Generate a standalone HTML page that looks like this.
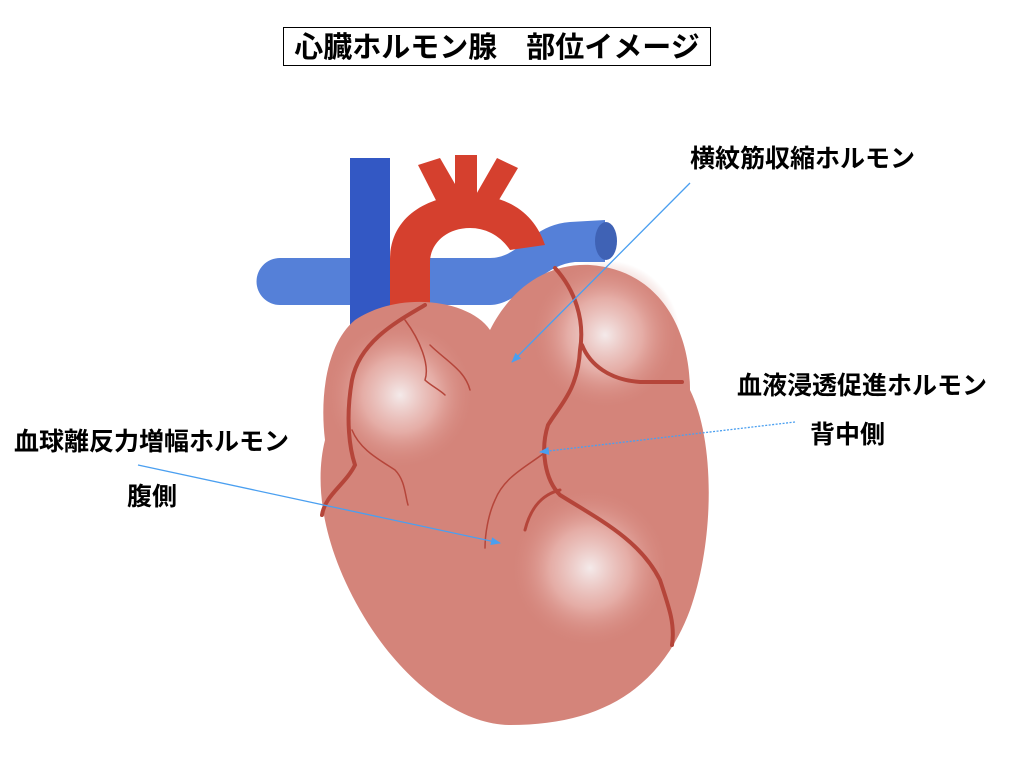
<!DOCTYPE html>
<html><head><meta charset="utf-8"><style>
html,body{margin:0;padding:0;background:#fff;}
svg{display:block}
text{font-family:"Liberation Sans","Noto Sans CJK JP",sans-serif;font-weight:bold;fill:#000}
</style></head><body>
<svg width="1024" height="768" viewBox="0 0 1024 768" xmlns="http://www.w3.org/2000/svg">
<defs>
<radialGradient id="hl" cx="0.5" cy="0.5" r="0.5">
<stop offset="0" stop-color="#f4eaea"/><stop offset="0.5" stop-color="#e9b7b1" stop-opacity="0.8"/><stop offset="1" stop-color="#d4847a" stop-opacity="0"/>
</radialGradient>
<marker id="ar" markerWidth="10" markerHeight="8" refX="9" refY="4" orient="auto" markerUnits="userSpaceOnUse"><path d="M0,0 L10,4 L0,8 Z" fill="#4a9ff0"/></marker>
</defs>
<rect x="283.5" y="27.5" width="427" height="38" fill="#fff" stroke="#000" stroke-width="1"/>
<text x="497" y="57" font-size="29" text-anchor="middle">心臓ホルモン腺　部位イメージ</text>

<path d="M280,258 L490,258 C520,258 530,225 570,222 L605,220 L605,262 L575,262 C540,265 520,305 490,305 L280,305 A23,23 0 0 1 280,258 Z" fill="#5580d8"/>
<rect x="350" y="158" width="40" height="190" fill="#3358c4"/>
<path d="M390,258 L490,258 L490,305 L390,305 Z" fill="#5580d8"/>
<ellipse cx="606" cy="241" rx="11" ry="19" fill="#3f62b5"/>
<path d="M390,310 L390,260 C390,215 430,195 470,195 C510,195 535,215 545,245 L510,250 C500,235 485,228 470,228 C445,228 430,245 430,262 L430,310 Z" fill="#d5402e"/>
<path d="M418,165 L440,158 L470,210 L445,218 Z" fill="#d5402e"/>
<rect x="455" y="155" width="22" height="55" fill="#d5402e"/>
<path d="M497,158 L518,168 L490,215 L470,205 Z" fill="#d5402e"/>
<path d="M490,330 C470,300 400,290 355,320 C325,345 320,400 325,440 C315,480 320,540 360,610 C400,680 460,725 510,725 C600,725 660,690 690,610 C715,540 715,440 690,390 C690,330 660,270 590,265 C545,263 510,290 490,330 Z" fill="#d4847a"/>
<circle cx="400" cy="395" r="75" fill="url(#hl)"/>
<circle cx="605" cy="335" r="75" fill="url(#hl)"/>
<circle cx="590" cy="568" r="80" fill="url(#hl)"/>
<g fill="none" stroke="#b5453a" stroke-linecap="round">
<path d="M425,305 C400,320 360,340 352,380 C345,420 350,450 355,465 C345,485 325,495 322,515" stroke-width="4"/>
<path d="M555,268 C575,290 585,320 580,350 C578,390 560,405 548,425 C540,450 545,480 560,495 C600,520 640,540 660,580 C670,610 675,625 672,645" stroke-width="4"/>
<path d="M582,345 C590,365 610,380 640,382 L682,382" stroke-width="4"/>
<path d="M352,430 C360,450 380,460 395,470 C405,480 405,495 408,505" stroke-width="1.5"/>
<path d="M405,320 C420,340 430,365 425,380 C430,385 440,390 445,395" stroke-width="1.5"/>
<path d="M430,345 C445,360 465,370 470,390" stroke-width="1.5"/>
<path d="M548,450 C530,465 505,475 495,500 C488,515 485,535 485,548" stroke-width="1.5"/>
<path d="M560,490 C540,495 530,510 525,530" stroke-width="3"/>
</g>
<g stroke="#4a9ff0" stroke-width="1.3" fill="none">
<line x1="690" y1="183" x2="512" y2="362" marker-end="url(#ar)"/>
<line x1="795" y1="422" x2="540" y2="452" stroke-dasharray="2,1.5" marker-end="url(#ar)"/>
<line x1="138" y1="465" x2="500" y2="543" marker-end="url(#ar)"/>
</g>
<text x="690" y="167" font-size="25">横紋筋収縮ホルモン</text>
<text x="737" y="394" font-size="25">血液浸透促進ホルモン</text>
<text x="810" y="443" font-size="25">背中側</text>
<text x="14" y="450" font-size="25">血球離反力増幅ホルモン</text>
<text x="127" y="505" font-size="25">腹側</text>
</svg>
</body></html>
